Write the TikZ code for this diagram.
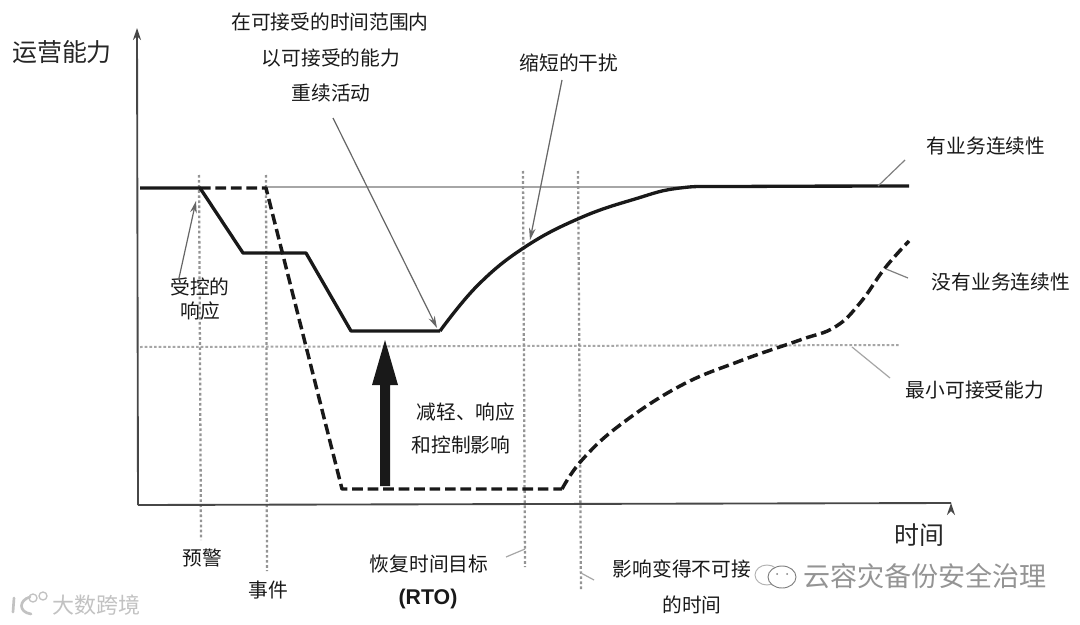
\documentclass[tikz,border=0pt]{standalone}
\usepackage{fontspec}
\setmainfont{Noto Sans CJK SC}
\usetikzlibrary{arrows.meta}
\tikzset{
  x=0.75pt,y=-0.75pt,
  lab/.style={font=\fontsize{14.8}{17}\selectfont,text=black!90,inner sep=0pt,anchor=center},
  biglab/.style={font=\fontsize{18.7}{21}\selectfont,text=black!85,inner sep=0pt,anchor=center},
  axisline/.style={draw=black!72,line width=1.4pt,-{Stealth[length=9pt,width=6pt]}},
  timeline/.style={draw=black!42,line width=1.7pt,dash pattern=on 2pt off 1.8pt},
  mainsolid/.style={draw=black!90,line width=2.5pt,line join=round},
  maindash/.style={draw=black!90,line width=2.6pt,line join=round,dash pattern=on 8pt off 3.6pt},
  leader/.style={draw=black!50,line width=0.9pt},
  leadarrow/.style={leader,draw=black!60,-{Stealth[length=9pt,width=5pt]}},
}
\begin{document}
\begin{tikzpicture}
\useasboundingbox (0,0) rectangle (1080,624);
\fill[white] (0,0) rectangle (1080,624);

% reference lines
\draw[draw=black!35,line width=0.9pt] (266,187) -- (680,187);
\draw[draw=black!35,line width=1.5pt,dash pattern=on 2pt off 1.5pt] (140,347) -- (900,345);

% time markers
\coordinate (w1) at (199,175); \coordinate (w2) at (201,540);
\coordinate (e1) at (266,175); \coordinate (e2) at (267,571);
\coordinate (r1) at (523,171); \coordinate (r2) at (525,567);
\coordinate (u1) at (578,171); \coordinate (u2) at (581,590);
\draw[timeline] (w1) -- (w2);
\draw[timeline] (e1) -- (e2);
\draw[timeline] (r1) -- (r2);
\draw[timeline] (u1) -- (u2);

% axes
\coordinate (o) at (138,505);
\coordinate (ytop) at (137,28);
\draw[axisline] (o) -- (ytop);
\draw[axisline] (o) -- (951,503) ++(0,0);

% curves
\draw[mainsolid] (140,188) -- (200,188) -- (243,253) -- (306,253) -- (351,331) -- (440,331);
\draw[mainsolid] plot[smooth,tension=0.7] coordinates {(440,331) (478,285) (525,247) (580,218) (635,199) (680,188) (740,186.5) (909,186)};
\draw[maindash] (200,188) -- (266,188) -- (342,489) -- (562,489);
\draw[maindash] plot[smooth,tension=0.7] coordinates {(562,489) (582,460) (620,425) (680,386) (740,361) (800,340) (835,327) (860,303) (885,268) (909,241)};

% big arrow
\fill[black!90] (380,486) -- (390,486) -- (390,385) -- (398,385) -- (385,340) -- (372,385) -- (380,385) -- cycle;

% labels
\node[biglab] (ylab) at (62,52) {运营能力};
\node[lab] (t1) at (330,22) {在可接受的时间范围内};
\node[lab] (t2) at (331,58) {以可接受的能力};
\node[lab] (t3) at (331,93) {重续活动};
\node[lab] (short) at (569,63) {缩短的干扰};
\node[lab] (withbc) at (986,146) {有业务连续性};
\node[lab] (nobc) at (1001,282) {没有业务连续性};
\node[lab] (minc) at (975,390) {最小可接受能力};
\node[lab] (ctrl1) at (200,287) {受控的};
\node[lab] (ctrl2) at (200,311) {响应};
\node[lab] (mit1) at (466,412) {减轻、响应};
\node[lab] (mit2) at (461,445) {和控制影响};
\node[biglab] (tlab) at (919,535) {时间};
\node[lab] (warn) at (202,558) {预警};
\node[lab] (event) at (268,590) {事件};
\node[lab] (rto1) at (429,564) {恢复时间目标};
\node[lab] (rto2) at (428,599) {\fontspec{Liberation Sans}[Scale=1.08]\bfseries (RTO)};
\node[lab] (imp1) at (682,569) {影响变得不可接};
\node[lab] (imp2) at (692,605) {的时间};

% leaders
\coordinate (a1s) at (179,278); \coordinate (a1e) at (196,201);
\coordinate (a2s) at (333,118); \coordinate (a2e) at (437,328);
\coordinate (a3s) at (562,80);  \coordinate (a3e) at (530,240);
\draw[leadarrow] (a1s) -- (a1e);
\draw[leadarrow] (a2s) -- (a2e);
\draw[leadarrow] (a3s) -- (a3e);
\coordinate (l1a) at (905,160); \coordinate (l1b) at (878,186);
\coordinate (l2a) at (908,278); \coordinate (l2b) at (886,269);
\coordinate (l3a) at (890,378); \coordinate (l3b) at (852,347);
\coordinate (l4a) at (506,557); \coordinate (l4b) at (525,549);
\coordinate (l5a) at (581,573); \coordinate (l5b) at (594,580);
\draw[leader] (l1a) -- (l1b);
\draw[leader] (l2a) -- (l2b);
\draw[leader,draw=black!35] (l3a) -- (l3b);
\draw[leader,draw=black!35] (l4a) -- (l4b);
\draw[leader,draw=black!35] (l5a) -- (l5b);

% watermarks
\node[biglab,font=\fontsize{20.3}{24}\selectfont,text=black!42] (wm1) at (925,576) {云容灾备份安全治理};
\draw[draw=black!30,line width=0.7pt] (767,575) ellipse (12 and 10);
\draw[draw=black!50,line width=0.7pt,fill=white] (782,577) ellipse (14 and 11);
\fill[black!50] (777,574) circle (1) (787,574) circle (1);
\node[biglab,font=\fontsize{16.5}{18}\selectfont,text=black!24] (wm2) at (96,605) {大数跨境};
\draw[draw=black!24,line width=2pt,line cap=round] (14,598) -- (13,612) (30,597) .. controls (19,600) and (18,612) .. (31,614);
\draw[draw=black!24,line width=1pt] (33,598) circle (4) (43,596) circle (4);
\end{tikzpicture}
\end{document}
